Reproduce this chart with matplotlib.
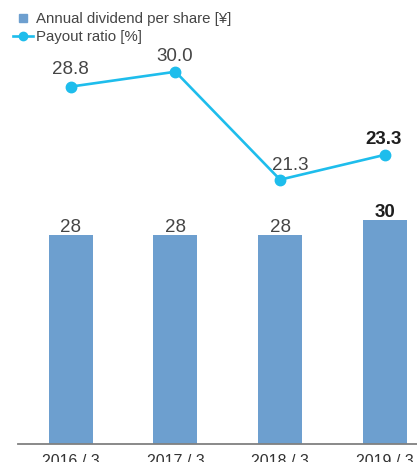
import numpy as np
import matplotlib.pyplot as plt
from matplotlib.lines import Line2D

plt.rcParams['font.family'] = ['Liberation Sans', 'DejaVu Sans']

# data
years = ['2016 / 3', '2017 / 3', '2018 / 3', '2019 / 3']
dividend = [28, 28, 28, 30]
payout = [28.8, 30.0, 21.3, 23.3]

# label nudges (pixels) for the payout ratio values
payout_dx = [0, -1, 10, -1]
payout_dy = [13, 11, 10, 11]

bar_color = '#6d9fcf'
line_color = '#1ebdec'
text_gray = '#454545'
text_dark = '#1e1e1e'

fig = plt.figure(figsize=(4.17, 4.62), dpi=100)
ax = fig.add_axes([18/417, 18/462, 399/417, 444/462])
x = np.arange(len(years))

ax.bar(x, dividend, width=0.42, color=bar_color, zorder=2)
ax.set_ylim(0, 59.5)
ax.set_xlim(-0.505, 3.309)

for i, v in enumerate(dividend):
    last = i == len(dividend) - 1
    ax.text(x[i], v + 0.4, str(v), ha='center', va='baseline', fontsize=13.5,
            color=text_dark if last else text_gray,
            fontweight='bold' if last else 'normal')

ax2 = ax.twinx()
ax2.plot(x, payout, color=line_color, lw=1.9, marker='o', ms=7.5, zorder=3)
ax2.set_ylim(0, 35.78)
for i, v in enumerate(payout):
    last = i == len(payout) - 1
    ax2.annotate(f'{v:.1f}', (x[i], v), xytext=(payout_dx[i], payout_dy[i]),
                 textcoords='offset pixels', ha='center', va='baseline',
                 fontsize=13.5, color=text_dark if last else text_gray,
                 fontweight='bold' if last else 'normal')

for a in (ax, ax2):
    for s in ['top', 'right', 'left']:
        a.spines[s].set_visible(False)
    a.set_yticks([])
ax.spines['bottom'].set_color('#808080')
ax.spines['bottom'].set_linewidth(1.3)
ax2.spines['bottom'].set_visible(False)
ax.set_xticks(x)
ax.set_xticklabels(years, fontsize=11.5, color='#333333')
ax.tick_params(axis='x', length=0, pad=7)

handles = [Line2D([], [], color=bar_color, lw=0, marker='s', ms=5.5,
                  label='Annual dividend per share [¥]'),
           Line2D([], [], color=line_color, lw=1.9, marker='o', ms=6,
                  label='Payout ratio [%]')]
fig.legend(handles=handles, loc='upper left', bbox_to_anchor=(13/417, 1 - 12/462),
           frameon=False, fontsize=10.8, handlelength=1.35, handletextpad=0.15,
           labelspacing=0.25, borderaxespad=0, borderpad=0, labelcolor=text_gray)

fig.savefig('out.png', dpi=100)
